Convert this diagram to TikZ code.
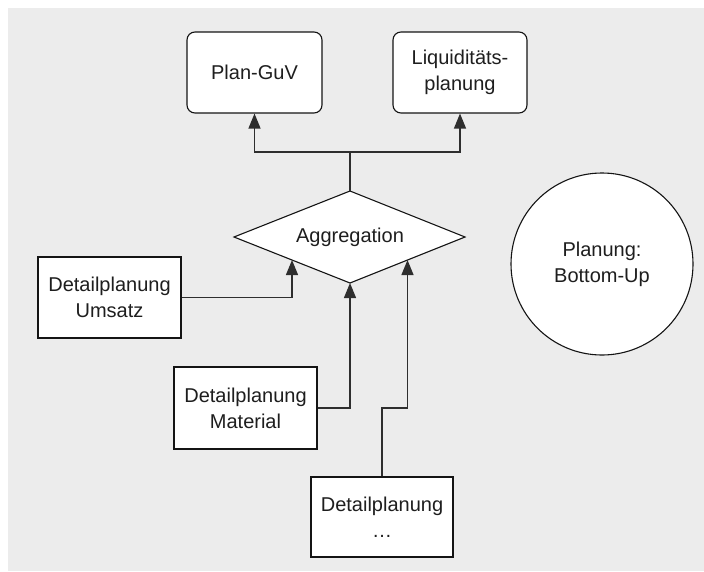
\documentclass[tikz,border=0pt]{standalone}
\usepackage{fontspec}
\setmainfont{Liberation Sans}
\usetikzlibrary{shapes.geometric,arrows.meta,calc}
\definecolor{bg}{HTML}{ECECEC}
\definecolor{ln}{HTML}{2E2E2E}
\definecolor{tx}{HTML}{1E1E1E}
\begin{document}
\begin{tikzpicture}[x=1pt,y=-1pt,
  every node/.style={font=\fontsize{20}{26}\selectfont, text=tx, align=center},
  box/.style={draw=black!92, line width=1.1pt, fill=white, inner sep=0pt},
  rbox/.style={box, rounded corners=8pt},
  conn/.style={draw=ln, line width=1.3pt},
  arr/.style={conn, -{Triangle[length=15pt,width=12pt]}}]
\useasboundingbox (0,0) rectangle (704,571);
\fill[bg] (8,8) rectangle (704,571);
\node[rbox, minimum width=135pt, minimum height=81pt] (guv) at (254.5,72.5) {Plan-GuV};
\node[rbox, minimum width=134pt, minimum height=81pt] (liq) at (460,72.5) {Liquiditäts-\\planung};
\coordinate (aW) at (234,237);
\coordinate (aN) at (350,191);
\coordinate (aE) at (465,237);
\coordinate (aS) at (350,283);
\path[box] (aW) -- (aN) -- (aE) -- (aS) -- cycle;
\node (agg) at (350,237) {Aggregation};
\node[box, minimum width=143pt, minimum height=81pt] (ums) at (109.5,297.5) {Detailplanung\\Umsatz};
\node[box, minimum width=143pt, minimum height=82pt] (mat) at (245.5,408) {Detailplanung\\Material};
\node[box, minimum width=142pt, minimum height=80pt] (dts) at (382,517) {Detailplanung\\\ldots};
\node[box, circle, minimum size=182pt] (pl) at (602,264) {Planung:\\Bottom-Up};
\coordinate (j) at (350,152);
\coordinate (aL) at ($(aS)!0.5!(aW)$);
\coordinate (aR) at ($(aS)!0.5!(aE)$);
\draw[conn] (aN) -- (j);
\draw[arr] (j) -| (guv.south);
\draw[arr] (j) -| (liq.south);
\draw[arr] (ums.east) -| (aL);
\draw[arr] (mat.east) -| (aS);
\draw[arr] (dts.north) |- (aR |- mat.east) -- (aR);
\end{tikzpicture}
\end{document}
